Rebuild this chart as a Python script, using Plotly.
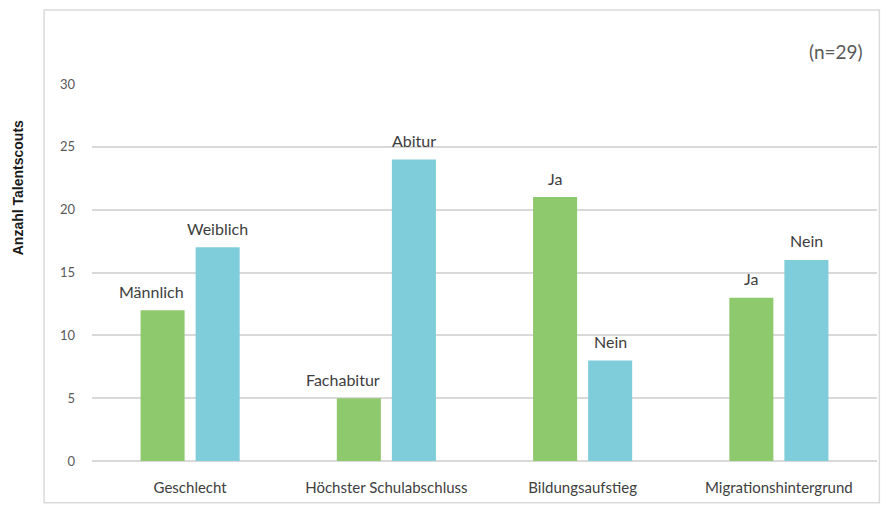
import plotly.graph_objects as go

# Merkmale der Talentscouts (n=29)
categories = ["Geschlecht", "Höchster Schulabschluss", "Bildungsaufstieg", "Migrationshintergrund"]
green_values = [12, 5, 21, 13]
blue_values = [17, 24, 8, 16]
green_labels = ["Männlich", "Fachabitur", "Ja", "Ja"]
blue_labels = ["Weiblich", "Abitur", "Nein", "Nein"]
y_ticks = [0, 5, 10, 15, 20, 25, 30]

GREEN = "#8fc96d"
BLUE = "#7fcdda"
FONT = "Lato, 'Open Sans', sans-serif"
LABEL_FONT = dict(family=FONT, size=16, color="#3d3d3d")
BAR_OFFSET = 27.5   # px from group centre to bar centre
BAR_HALF = 22       # half bar width in px

fig = go.Figure()
fig.add_trace(go.Bar(x=categories, y=green_values, marker_color=GREEN,
                     marker_line_width=0, hoverinfo="skip"))
fig.add_trace(go.Bar(x=categories, y=blue_values, marker_color=BLUE,
                     marker_line_width=0, hoverinfo="skip"))

# Labels above each bar; long labels on the left bar end flush with its right edge
annotations = []
for cat, v, t in zip(categories, green_values, green_labels):
    if len(t) > 4:
        anchor, shift = "right", -BAR_OFFSET + BAR_HALF + 1
    else:
        anchor, shift = "center", -BAR_OFFSET
    annotations.append(dict(x=cat, y=v, text=t, xref="x", yref="y", showarrow=False,
                            xanchor=anchor, xshift=shift, yshift=19, yanchor="middle",
                            font=LABEL_FONT))
for cat, v, t in zip(categories, blue_values, blue_labels):
    annotations.append(dict(x=cat, y=v, text=t, xref="x", yref="y", showarrow=False,
                            xshift=BAR_OFFSET, yshift=19, yanchor="middle", font=LABEL_FONT))

annotations.append(dict(x=0.985, y=1.085, xref="paper", yref="paper", text="(n=29)",
                        showarrow=False, xanchor="right", yanchor="middle",
                        font=dict(family=FONT, size=19, color="#595959")))
annotations.append(dict(x=-0.094, y=0.724, xref="paper", yref="paper", text="<b>Anzahl Talentscouts</b>",
                        showarrow=False, textangle=-90, xanchor="center", yanchor="middle",
                        font=dict(family="Liberation Sans, Arial, sans-serif", size=14, color="#1a1a1a")))

fig.update_layout(
    width=887, height=506,
    margin=dict(l=92, r=10, t=84, b=45),
    paper_bgcolor="white", plot_bgcolor="white",
    barmode="group", bargap=0.439, bargroupgap=0.2,
    showlegend=False,
    annotations=annotations,
    shapes=[dict(type="rect", xref="paper", yref="paper", x0=-0.061, x1=1.003, y0=-0.111, y1=1.196,
                 line=dict(color="#dadada", width=1.5), fillcolor="rgba(0,0,0,0)", layer="below")],
)
fig.update_xaxes(showgrid=False, showline=False, ticks="", ticklabelstandoff=16,
                 tickfont=dict(family=FONT, size=15, color="#404040"))
fig.update_yaxes(range=[0, 30], tickvals=y_ticks, showgrid=True, gridcolor="#d9d9d9", gridwidth=1.5,
                 zeroline=True, zerolinecolor="#d9d9d9", zerolinewidth=1.5,
                 showline=False, ticks="", ticklabelstandoff=16,
                 tickfont=dict(family=FONT, size=13, color="#595959"))

fig.write_html("out.html")
